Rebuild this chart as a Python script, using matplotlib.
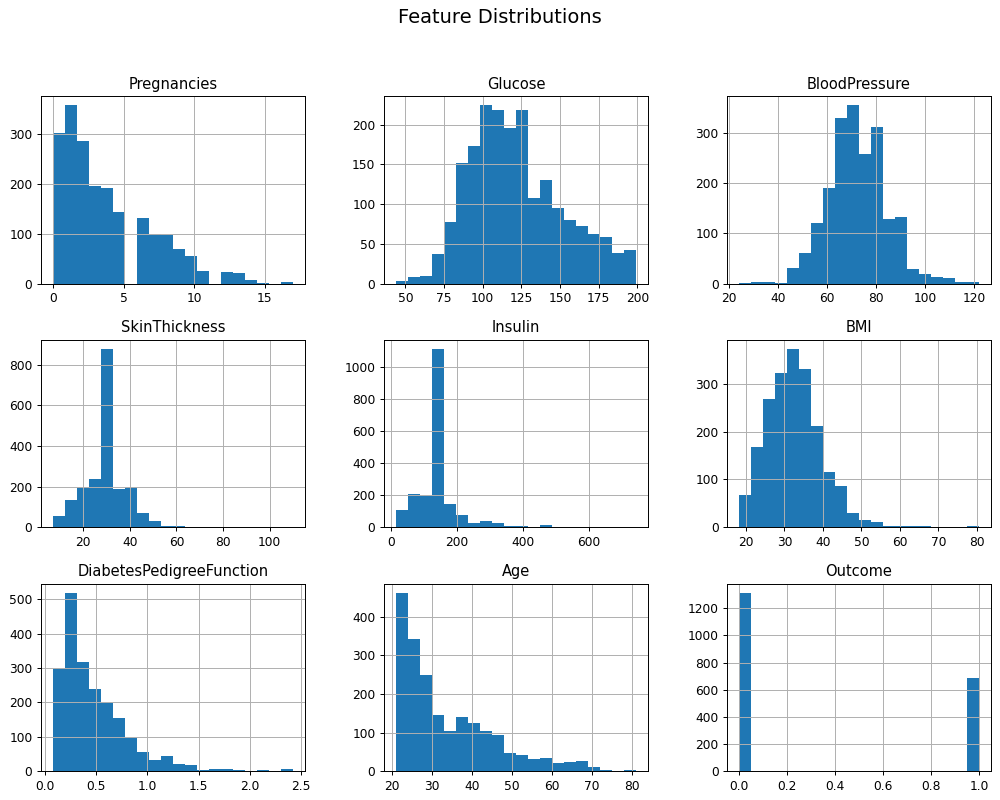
import numpy as np
import matplotlib
matplotlib.use("Agg")
import matplotlib.pyplot as plt

features = ["Pregnancies", "Glucose", "BloodPressure",
            "SkinThickness", "Insulin", "BMI",
            "DiabetesPedigreeFunction", "Age", "Outcome"]

# value ranges (min, max) of each feature
pregnancies_range = (0, 17)
glucose_range = (44, 199)
bloodpressure_range = (24, 122)
skinthickness_range = (7, 110)
insulin_range = (14, 744)
bmi_range = (18.2, 80.6)
dpf_range = (0.078, 2.42)
age_range = (21, 81)
outcome_range = (0, 1)

# counts in each of the 20 bins
pregnancies_counts = [301, 358, 285, 195, 192, 143, 0, 132, 99, 97,
                      70, 55, 25, 0, 23, 22, 8, 2, 0, 4]
glucose_counts = [3, 8, 10, 37, 77, 152, 173, 225, 218, 196,
                  218, 108, 130, 95, 80, 72, 63, 59, 38, 42]
bloodpressure_counts = [2, 4, 4, 2, 30, 60, 120, 190, 330, 355,
                        258, 312, 128, 133, 28, 18, 14, 12, 4, 4]
skinthickness_counts = [58, 135, 200, 236, 878, 189, 200, 72, 30, 5,
                        5, 1, 0, 0, 0, 0, 0, 0, 0, 1]
insulin_counts = [107, 207, 196, 1117, 146, 75, 28, 42, 30, 6,
                  10, 0, 16, 5, 5, 5, 0, 0, 0, 1]
bmi_counts = [68, 167, 268, 322, 373, 331, 211, 115, 86, 31,
              16, 12, 2, 2, 2, 2, 0, 0, 0, 2]
dpf_counts = [299, 519, 316, 238, 199, 156, 97, 56, 33, 44,
              22, 17, 3, 7, 7, 4, 1, 4, 0, 6]
age_counts = [462, 341, 250, 146, 105, 139, 124, 103, 94, 48,
              41, 32, 35, 21, 23, 26, 10, 2, 0, 2]
outcome_counts = [1316, 0, 0, 0, 0, 0, 0, 0, 0, 0,
                  0, 0, 0, 0, 0, 0, 0, 0, 0, 684]

ranges = [pregnancies_range, glucose_range, bloodpressure_range,
          skinthickness_range, insulin_range, bmi_range,
          dpf_range, age_range, outcome_range]
counts = [pregnancies_counts, glucose_counts, bloodpressure_counts,
          skinthickness_counts, insulin_counts, bmi_counts,
          dpf_counts, age_counts, outcome_counts]

DPI = 88
fig, axes = plt.subplots(3, 3, figsize=(1000 / DPI, 800 / DPI), dpi=DPI)
for ax, name, rng, cnt in zip(axes.flat, features, ranges, counts):
    edges = np.linspace(rng[0], rng[1], 21)
    ax.hist(edges[:-1], bins=edges, weights=cnt, color="C0")
    ax.set_title(name)
    ax.grid(True)

fig.suptitle("Feature Distributions", fontsize=16, y=0.99)
fig.subplots_adjust(left=0.041, right=0.991, top=0.88, bottom=0.036,
                    wspace=0.30, hspace=0.30)
fig.savefig("out.png", dpi=DPI)
